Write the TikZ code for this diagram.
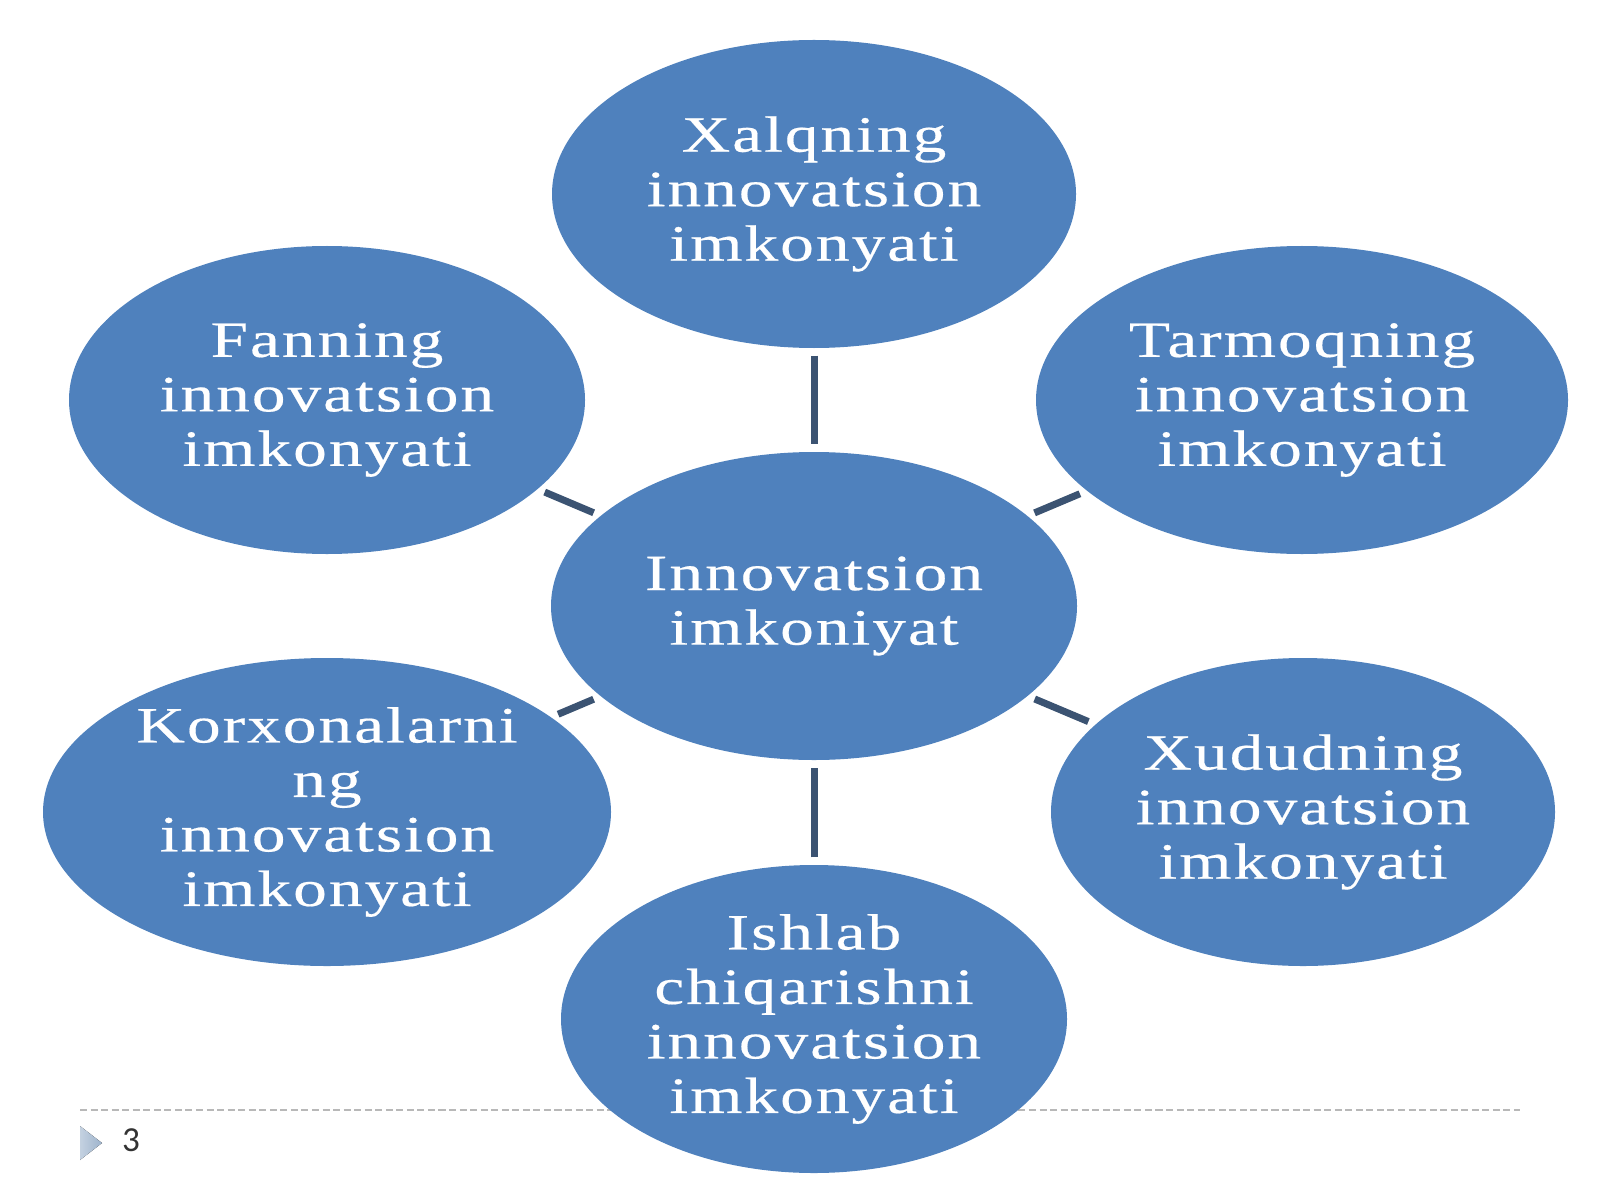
\documentclass[tikz,border=0pt]{standalone}
\usepackage{fontspec}
\usepackage{tikz}
\usetikzlibrary{shapes.geometric, positioning, calc}
\newfontfamily\bubblefont[FakeStretch=1.32,LetterSpace=4,FakeBold=0.4]{Liberation Serif}
\newfontfamily\pagefont{Carlito}
\definecolor{bubbleblue}{HTML}{4F81BD}
\definecolor{spokeblue}{HTML}{3B5372}
\definecolor{rulegray}{HTML}{B8B8B8}
\definecolor{markblue}{HTML}{9DB3CC}
\tikzstyle{bubble} = [ellipse,fill=bubbleblue,text=white,inner sep=0pt,minimum height=3.08cm,align=center,font=\bubblefont\fontsize{14.5}{15.5}\selectfont]
\tikzstyle{spoke} = [draw=spokeblue,line width=2pt,shorten <=2pt,shorten >=2pt]

\begin{document}
\begin{tikzpicture}[on grid,auto]
    \useasboundingbox (0,0) rectangle (16,12);
    % footer line and page number
    \coordinate (rule_w) at (0.80,0.90);
    \coordinate (rule_e) at (15.20,0.90);
    \draw[rulegray,line width=0.6pt,dash pattern=on 2pt off 1pt] (rule_w) -- (rule_e);
    \fill[left color=markblue!60,right color=markblue] (0.80,0.74) -- (1.02,0.57) -- (0.80,0.40) -- cycle;
    \node[font=\pagefont\fontsize{10}{12}\selectfont,text=black!80] (page) at (1.31,0.60) {3};
    % bubbles
   	\node[bubble,minimum width=5.26cm] (centre) at (8.14,5.94) {Innovatsion\\imkoniyat};
   	\node[bubble,minimum width=5.24cm] (xalq) [above=4.12cm of centre] {Xalqning\\innovatsion\\imkonyati};
   	\node[bubble,minimum width=5.16cm] (fan) [above left=2.06cm and 4.87cm of centre] {Fanning\\innovatsion\\imkonyati};
   	\node[bubble,minimum width=5.32cm] (tarmoq) [above right=2.06cm and 4.88cm of centre] {Tarmoqning\\innovatsion\\imkonyati};
   	\node[bubble,minimum width=5.68cm] (korxona) [below left=2.06cm and 4.87cm of centre] {Korxonalarni\\ng\\innovatsion\\imkonyati};
   	\node[bubble,minimum width=5.04cm] (xudud) [below right=2.06cm and 4.89cm of centre] {Xududning\\innovatsion\\imkonyati};
   	\node[bubble,minimum width=5.06cm] (ishlab) [below=4.13cm of centre] {Ishlab\\chiqarishni\\innovatsion\\imkonyati};
    \path[spoke]
    (xalq) edge (centre)
    (fan) edge (centre)
    (tarmoq) edge (centre)
    (korxona) edge (centre)
    (xudud) edge (centre)
    (ishlab) edge (centre);
\end{tikzpicture}
\end{document}
